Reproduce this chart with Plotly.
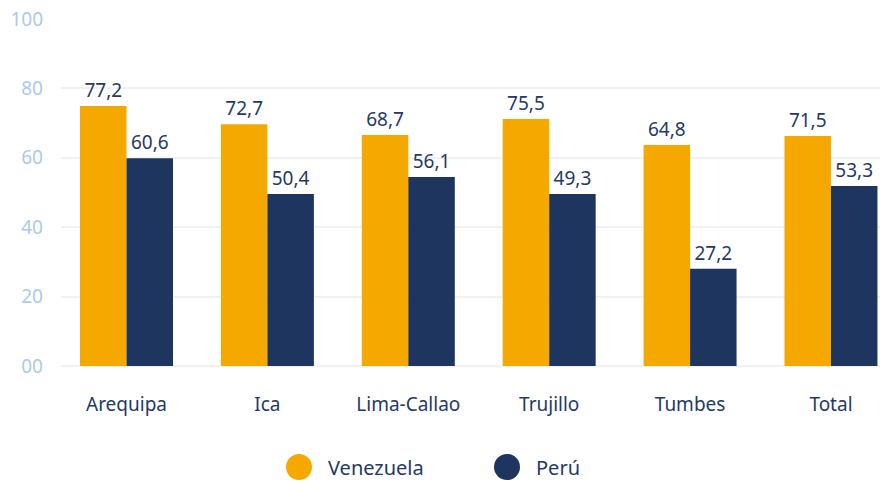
import plotly.graph_objects as go

categories = ["Arequipa", "Ica", "Lima-Callao", "Trujillo", "Tumbes", "Total"]
venezuela_values = [74.9, 69.7, 66.6, 71.2, 63.7, 66.3]
peru_values = [59.9, 49.6, 54.5, 49.6, 28.0, 51.9]
venezuela_labels = ["77,2", "72,7", "68,7", "75,5", "64,8", "71,5"]
peru_labels = ["60,6", "50,4", "56,1", "49,3", "27,2", "53,3"]
y_tickvals = [0, 20, 40, 60, 80, 100]
y_ticktext = ["00", "20", "40", "60", "80", "100"]
series_names = ["Venezuela", "Perú"]

ORANGE = "#f5a800"
NAVY = "#1e3560"
TEXT = "#243a64"
FONT = "Noto Sans"

fig = go.Figure()
fig.add_bar(x=categories, y=venezuela_values, name=series_names[0], marker_color=ORANGE,
            marker_line_width=0,
            text=venezuela_labels, textposition="outside", cliponaxis=False,
            textfont=dict(color=TEXT, size=19, family=FONT), showlegend=False)
fig.add_bar(x=categories, y=peru_values, name=series_names[1], marker_color=NAVY,
            marker_line_width=0,
            text=peru_labels, textposition="outside", cliponaxis=False,
            textfont=dict(color=TEXT, size=19, family=FONT), showlegend=False)

fig.update_layout(
    width=881, height=482,
    margin=dict(l=61, r=1, t=19, b=116),
    paper_bgcolor="white", plot_bgcolor="white",
    barmode="group", bargap=0.34, bargroupgap=0,
    font=dict(family=FONT, color=TEXT, size=18),
    xaxis=dict(range=[-0.465, 5.348], showgrid=False, showline=False, zeroline=False,
               ticks="", ticklabelstandoff=25, tickfont=dict(size=19, color=TEXT)),
    yaxis=dict(range=[0, 100], tickvals=y_tickvals, ticktext=y_ticktext,
               showgrid=True, gridcolor="#f1f1f3", gridwidth=2, zeroline=True,
               zerolinecolor="#f1f1f3", zerolinewidth=2, showline=False, ticks="",
               ticklabelstandoff=17, tickfont=dict(size=19, color="#acc9ec")),
    showlegend=False,
)

# custom legend with circular markers
legend_items = [(series_names[0], ORANGE, 299), (series_names[1], NAVY, 507)]
for name, color, cx in legend_items:
    fig.add_shape(type="circle", xref="paper", yref="paper", xsizemode="pixel", ysizemode="pixel",
                  xanchor=(cx - 61) / 819, yanchor=(366 - 467) / 347,
                  x0=-13, x1=13, y0=-13, y1=13, fillcolor=color, line=dict(width=0))
    fig.add_annotation(text=name, xref="paper", yref="paper", x=(cx + 27 - 61) / 819,
                       y=(366 - 467) / 347, xanchor="left", yanchor="middle", showarrow=False,
                       font=dict(size=20, color=TEXT, family=FONT))

fig.write_html("out.html", config={"displayModeBar": False},
               post_script="document.body.style.margin='0';document.body.style.overflow='hidden';")
